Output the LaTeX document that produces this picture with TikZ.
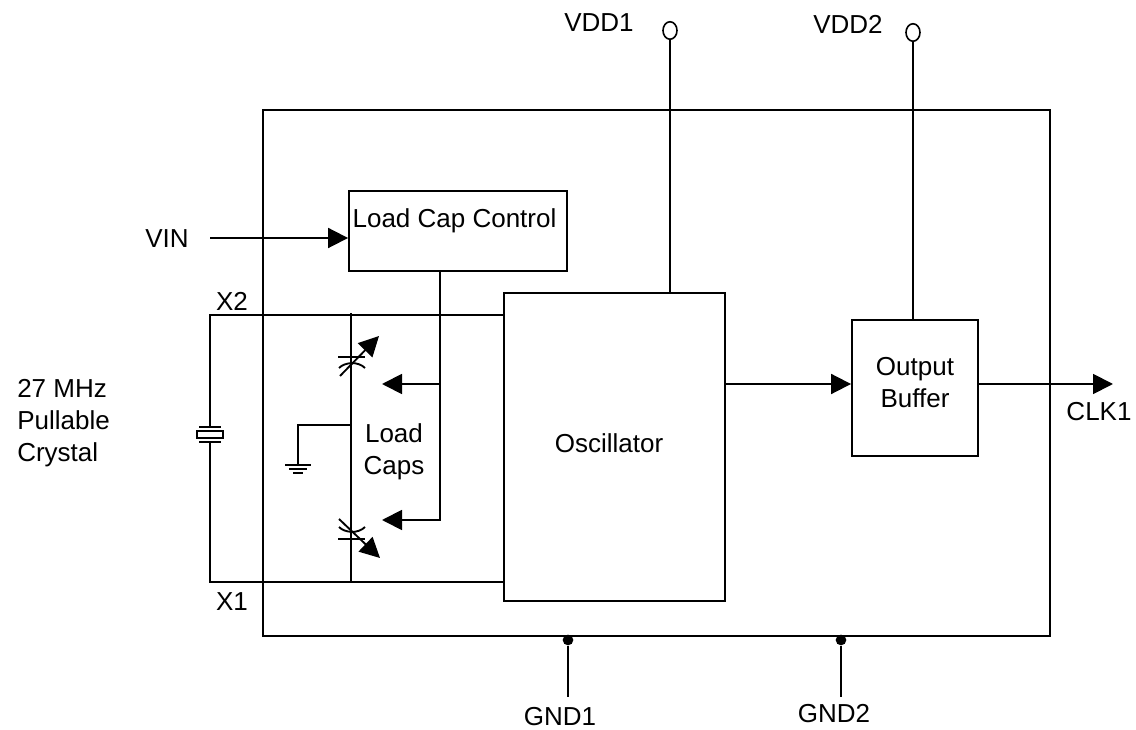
\documentclass[tikz,border=0pt]{standalone}
\usepackage{fontspec}
\setmainfont{Liberation Sans}
\usetikzlibrary{arrows.meta, positioning, calc}
\tikzset{>={Triangle[length=15pt,width=15pt]}}
\tikzset{
    wire/.style={line width=1.4pt, line join=miter},
    blockbox/.style={draw, line width=1.4pt, rectangle, inner sep=0pt, align=center},
    lbl/.style={inner sep=0pt, align=center},
    pad/.style={circle, draw, line width=1.2pt, minimum width=10.5pt, minimum height=10.5pt, inner sep=0pt, yscale=1.25},
    dotpin/.style={circle, fill, inner sep=0pt, minimum size=8pt}
}
\begin{document}
\begin{tikzpicture}[x=0.75pt, y=-0.75pt, font=\fontsize{19.5}{21}\selectfont]
    \useasboundingbox (0,0) rectangle (1136,730);
    % blocks
    \node[blockbox, minimum width=590.25pt, minimum height=394.5pt] (chip) at (656.5,373) {};
    \node[blockbox, minimum width=163.5pt, minimum height=60pt] (ctrl) at (458,231) {};
    \node[lbl] (ctrltext) at (454.5,221) {Load Cap Control};
    \node[blockbox, minimum width=165.75pt, minimum height=231pt] (osc) at (614.5,447) {};
    \node[lbl] (osctext) at (609,443) {Oscillator};
    \node[blockbox, minimum width=94.5pt, minimum height=102pt] (buf) at (915,388) {};
    \node[lbl] (buftext) at (915,383) {Output\\[3pt]Buffer};

    % supply and ground pins
    \node[pad] (vdda) at (670,30.5) {};
    \node[pad] (vddb) at (913,32.5) {};
    \node[lbl] (vddatext) at (599,23) {VDD1};
    \node[lbl] (vddbtext) at (848,24) {VDD2};
    \draw[wire] (vdda) -- (vdda |- osc.north);
    \draw[wire] (vddb) -- (vddb |- buf.north);
    \node[dotpin] (gnda) at (568,640) {};
    \node[dotpin] (gndb) at (841,640) {};
    \coordinate (gndaend) at (568,697);
    \coordinate (gndbend) at (841,697);
    \node[lbl] (gndatext) at (560,717) {GND1};
    \node[lbl] (gndbtext) at (834,713.5) {GND2};
    \draw[wire] (gnda) -- (gndaend);
    \draw[wire] (gndb) -- (gndbend);

    % signals
    \node[lbl] (vin) at (167,238.5) {VIN};
    \coordinate (vinstart) at (210,238);
    \draw[wire, ->] (vinstart) -- (vinstart -| ctrl.west);
    \coordinate (oscout) at (725,384);
    \draw[wire, ->] (oscout) -- (oscout -| buf.west);
    \coordinate (clkend) at (1113,384);
    \draw[wire, ->] (clkend -| buf.east) -- (clkend);
    \node[lbl] (clk) at (1099,412) {CLK1};

    % crystal
    \coordinate (xa) at (210,315);
    \coordinate (xb) at (210,582);
    \node[lbl] (xatext) at (232,301) {X2};
    \node[lbl] (xbtext) at (232,601.5) {X1};
    \node[blockbox, minimum width=19pt, minimum height=5.5pt] (xtal) at (210,434.5) {};
    \coordinate (platea) at (210,427);
    \coordinate (plateb) at (210,442);
    \draw[wire] (osc.west |- xa) -- (xa) -- (platea);
    \draw[wire] (osc.west |- xb) -- (xb) -- (plateb);
    \draw[wire] ($(platea)+(-11,0)$) -- ($(platea)+(11,0)$);
    \draw[wire] ($(plateb)+(-11,0)$) -- ($(plateb)+(11,0)$);
    \node[lbl, align=left, anchor=west] (xtaltext) at (17,423) {27 MHz\\[3pt]Pullable\\[3pt]Crystal};

    % load caps
    \coordinate (capa) at (351,357);
    \coordinate (capb) at (351,539);
    \draw[wire] (351,313) coordinate (bustop) -- (351,582) coordinate (busend);
    \draw[wire] ($(capa)+(-13,0)$) -- ($(capa)+(14,0)$);
    \draw[wire] ($(capb)+(-13,0)$) -- ($(capb)+(14,0)$);
    \draw[wire] (339,368) .. controls (345,362) and (358,361) .. (365,368);
    \draw[wire] (339,527) .. controls (345,533) and (358,534) .. (365,527);
    \draw[wire, ->] (340,376) -- (379,336);
    \draw[wire, ->] (339,519) -- (380,558);
    \node[lbl] (capstext) at (394,451.5) {Load\\[3pt]Caps};

    % control lines
    \coordinate (ctla) at (440,384);
    \coordinate (ctlb) at (440,520);
    \coordinate (tipa) at (382,384);
    \coordinate (tipb) at (382,520);
    \draw[wire, ->] (ctla) -- (tipa);
    \draw[wire, ->] (ctla |- ctrl.south) -- (ctlb) -- (tipb);

    % ground symbol
    \coordinate (earth) at (298,465);
    \draw[wire] (351,425) coordinate (busmid) -- (earth |- busmid) -- (earth);
    \draw[wire] ($(earth)+(-13,0)$) -- ($(earth)+(13,0)$);
    \draw[wire] ($(earth)+(-9,4)$) -- ($(earth)+(9,4)$);
    \draw[wire] ($(earth)+(-5,8)$) -- ($(earth)+(5,8)$);
\end{tikzpicture}
\end{document}
